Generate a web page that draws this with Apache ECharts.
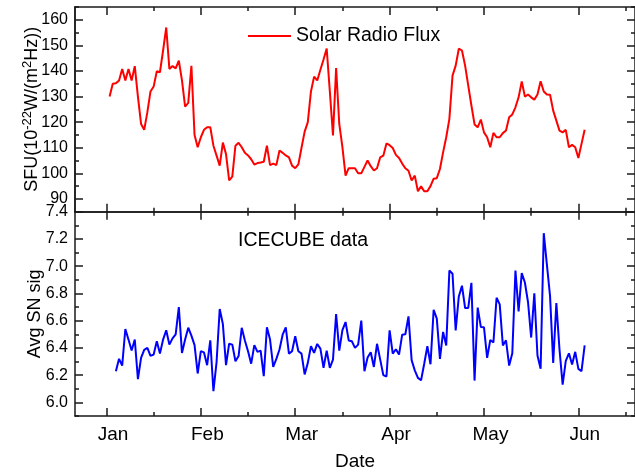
<!DOCTYPE html>
<html>
<head>
<meta charset="utf-8">
<script src="https://cdn.jsdelivr.net/npm/echarts@6/dist/echarts.min.js"></script>
<style>
  html, body { margin: 0; padding: 0; background: #ffffff; }
  #chart { width: 635px; height: 473px; }
</style>
</head>
<body>
<div id="chart"></div>
<script>
// Month ticks along a day axis (30 days per month step)
const monthLabels = ['Jan', 'Feb', 'Mar', 'Apr', 'May', 'Jun'];
const monthTicks = [0, 30, 60, 90, 120, 150];
const halfMonthTicks = [15, 45, 75, 105, 135, 165];

// Solar radio flux axis ticks
const sfuTicks = [90, 100, 110, 120, 130, 140, 150, 160];
const sfuMinorTicks = [85, 95, 105, 115, 125, 135, 145, 155, 165];

// IceCube axis ticks
const snTicks = [6.0, 6.2, 6.4, 6.6, 6.8, 7.0, 7.2, 7.4];
const snMinorTicks = [5.9, 6.1, 6.3, 6.5, 6.7, 6.9, 7.1, 7.3];

// Daily solar radio flux (SFU), starting at day 1
const sfuFirstDay = 1;
const sfuValues = [
  130, 135, 135.2, 136.3, 140.8, 136.3, 140.8, 136.3, 141.9, 130,
  119.3, 117, 123.9, 132, 133.9, 139.9, 139.5, 148, 157, 140.8,
  141.9, 141, 144, 136.3, 126.1, 127.5, 142, 115, 110.2, 114.1,
  117, 118, 118, 110.8, 106.9, 103, 112, 107.5, 97.2, 98.7,
  110.8, 111.9, 110.2, 108, 107, 105.5, 103.4, 104, 104.2, 104.5,
  110.8, 103.2, 103.8, 103.2, 108.9, 108, 107, 106.2, 103, 102,
  103.5, 110, 116.3, 120, 132, 137.8, 136.3, 140.5, 144.5, 148.8,
  132, 114.8, 141.1, 119.3, 110.2, 99.1, 102, 102, 102, 100,
  100, 102.5, 105, 102.8, 101.1, 102, 106.2, 106.9, 111.7, 111,
  109.9, 107.2, 106, 103.8, 102, 101, 97.2, 99.1, 93, 94.9,
  93, 93, 95, 97.9, 98.1, 101.7, 108.2, 114.1, 121.3, 138.2,
  142.1, 148.7, 148, 142.1, 134.3, 126.5, 119.1, 118, 121, 116,
  114.1, 110.2, 115.8, 114.1, 114.1, 115.7, 116.7, 121.9, 123, 125.8,
  129.7, 135.9, 130, 130.8, 129.7, 128.8, 130.8, 136, 132, 130.8,
  130.7, 124.5, 120.6, 116.7, 116, 117, 110.2, 111.1, 110.2, 106,
  111.5, 117
];

// Daily average supernova significance, starting at day 3
const snFirstDay = 3;
const snValues = [
  6.229, 6.32, 6.27, 6.539, 6.461, 6.381, 6.461, 6.17, 6.327, 6.385,
  6.4, 6.342, 6.351, 6.449, 6.358, 6.461, 6.53, 6.424, 6.47, 6.5,
  6.7, 6.363, 6.461, 6.548, 6.49, 6.42, 6.212, 6.376, 6.367, 6.273,
  6.456, 6.082, 6.296, 6.686, 6.575, 6.273, 6.431, 6.424, 6.302, 6.34,
  6.548, 6.455, 6.376, 6.284, 6.42, 6.371, 6.38, 6.192, 6.551, 6.461,
  6.261, 6.319, 6.388, 6.497, 6.551, 6.358, 6.375, 6.485, 6.375, 6.358,
  6.205, 6.29, 6.412, 6.363, 6.429, 6.395, 6.254, 6.38, 6.254, 6.314,
  6.649, 6.38, 6.53, 6.59, 6.455, 6.449, 6.4, 6.424, 6.6, 6.229,
  6.33, 6.368, 6.26, 6.43, 6.316, 6.2, 6.19, 6.529, 6.358, 6.39,
  6.351, 6.497, 6.5, 6.631, 6.31, 6.235, 6.18, 6.162, 6.284, 6.412,
  6.28, 6.68, 6.615, 6.319, 6.517, 6.418, 6.968, 6.944, 6.529, 6.778,
  6.857, 6.693, 6.693, 6.878, 6.16, 6.696, 6.554, 6.551, 6.327, 6.458,
  6.44, 6.768, 6.72, 6.418, 6.456, 6.27, 6.36, 6.968, 6.668, 6.949,
  6.88, 6.735, 6.476, 6.8, 6.344, 6.247, 7.242, 7.01, 6.78, 6.29,
  6.729, 6.388, 6.13, 6.305, 6.36, 6.278, 6.371, 6.246, 6.229, 6.419
];

const X_MIN = -10, X_MAX = 168;
const FONT = '"Liberation Sans", Arial, sans-serif';
const AXIS_COLOR = '#1a1a1a';
const MAJOR_LEN = 8, MINOR_LEN = 4;

const toPairs = (first, vals) => vals.map((v, i) => [first + i, v]);

function lineStyle() { return { color: AXIS_COLOR, width: 1.5 }; }

// One side of an axis frame: a major axis (line, ticks, optional labels) and a minor-tick overlay
function axisPair(grid, position, range, major, minor, labelOpt, nameOpt) {
  const base = {
    type: 'value', gridIndex: grid, position: position,
    min: range[0], max: range[1], splitLine: { show: false }, splitArea: { show: false }
  };
  const majorAxis = Object.assign({}, base, {
    axisLine: { show: true, onZero: false, lineStyle: lineStyle() },
    axisTick: { show: true, inside: true, length: MAJOR_LEN, customValues: major, lineStyle: lineStyle() },
    axisLabel: labelOpt
      ? Object.assign({ show: true, hideOverlap: false, customValues: major, color: '#000', fontFamily: FONT }, labelOpt)
      : { show: false }
  }, nameOpt || {});
  const minorAxis = Object.assign({}, base, {
    axisLine: { show: false, onZero: false },
    axisTick: { show: true, inside: true, length: MINOR_LEN, customValues: minor, lineStyle: lineStyle() },
    axisLabel: { show: false }
  });
  return [majorAxis, minorAxis];
}

const xRange = [X_MIN, X_MAX];
const sfuRange = [85, 165];
const snRange = [5.9, 7.4];

const xAxes = [].concat(
  // top panel
  axisPair(0, 'bottom', xRange, monthTicks, halfMonthTicks, null),
  axisPair(0, 'top', xRange, monthTicks, halfMonthTicks, null),
  // bottom panel
  axisPair(1, 'bottom', xRange, monthTicks, halfMonthTicks,
    { fontSize: 19, margin: 9, padding: [0, 0, 0, 13],
      formatter: v => monthLabels[monthTicks.indexOf(v)] || '' },
    { name: 'Date', nameLocation: 'middle', nameGap: 36,
      nameTextStyle: { fontSize: 19, fontFamily: FONT, color: '#000' } }),
  axisPair(1, 'top', xRange, monthTicks, halfMonthTicks, null)
);

const yNameCommon = { nameLocation: 'middle', nameGap: 31, nameRotate: 90, nameMoveOverlap: false };
const sfuLabel = { fontSize: 16, margin: 7, formatter: v => String(v) };

const yAxes = [].concat(
  axisPair(0, 'left', sfuRange, sfuTicks.slice(1), sfuMinorTicks, sfuLabel,
    Object.assign({
      name: '{n|SFU(10}{s|-22}{n|W/(m}{s|2}{n|Hz))}',
      nameTextStyle: {
        color: '#000',
        rich: {
          n: { fontSize: 18, fontFamily: FONT, color: '#000', lineHeight: 23 },
          s: { fontSize: 13, fontFamily: FONT, color: '#000', lineHeight: 13, verticalAlign: 'top' }
        }
      }
    }, yNameCommon)),
  axisPair(0, 'right', sfuRange, sfuTicks, sfuMinorTicks, null),
  axisPair(1, 'left', snRange, snTicks, snMinorTicks,
    { fontSize: 16, margin: 7, formatter: v => v.toFixed(1) },
    Object.assign({
      name: 'Avg SN sig',
      nameTextStyle: { fontSize: 18, fontFamily: FONT, color: '#000' }
    }, yNameCommon)),
  axisPair(1, 'right', snRange, snTicks, snMinorTicks, null),
  // lowest SFU label sits just above the panel divider
  axisPair(0, 'left', sfuRange, sfuTicks.slice(0, 1), [], sfuLabel)
);

const chart = echarts.init(document.getElementById('chart'), null, { renderer: 'canvas' });
chart.setOption({
  backgroundColor: '#ffffff',
  animation: false,
  grid: [
    { left: 75, right: 0, top: 7, height: 204.7 },
    { left: 75, right: 0, top: 211.7, height: 204.3 }
  ],
  xAxis: xAxes,
  yAxis: yAxes,
  legend: {
    data: ['Solar Radio Flux'],
    left: 248, top: 26, padding: 0,
    icon: 'rect',
    itemWidth: 43, itemHeight: 2,
    textStyle: { fontSize: 19.5, fontFamily: FONT, color: '#000' }
  },
  graphic: [{
    type: 'text', left: 238, top: 231,
    style: { text: 'ICECUBE data', fontSize: 19.5, fontFamily: FONT, fill: '#000' }
  }],
  series: [
    {
      name: 'Solar Radio Flux', type: 'line', xAxisIndex: 0, yAxisIndex: 0,
      data: toPairs(sfuFirstDay, sfuValues),
      symbol: 'none', lineStyle: { color: '#ff0000', width: 2 }, itemStyle: { color: '#ff0000' }
    },
    {
      name: 'ICECUBE data', type: 'line', xAxisIndex: 4, yAxisIndex: 4,
      data: toPairs(snFirstDay, snValues),
      symbol: 'none', lineStyle: { color: '#0000ff', width: 2 }, itemStyle: { color: '#0000ff' }
    }
  ]
});
</script>
</body>
</html>
